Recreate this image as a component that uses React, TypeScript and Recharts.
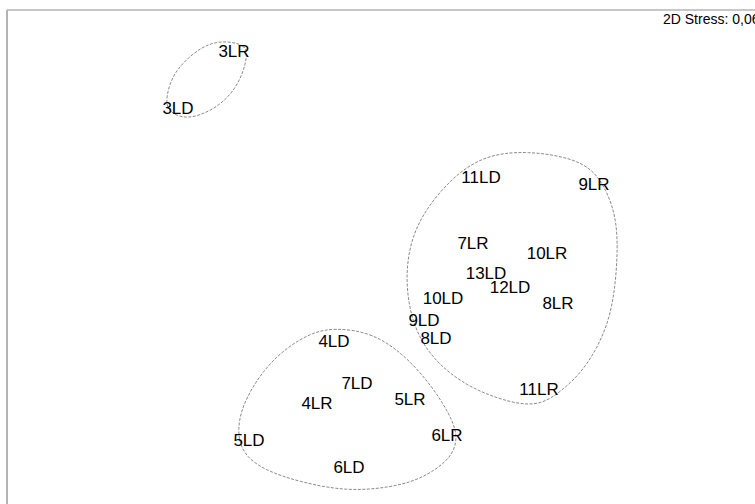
import React from "react";
import { ScatterChart, Scatter, XAxis, YAxis, ReferenceLine } from "recharts";

// NMDS ordination: sample labels plotted at their coordinates
const sampleNames = [
  "3LR", "3LD", "11LD", "9LR", "7LR", "10LR", "13LD", "12LD", "10LD", "8LR",
  "9LD", "8LD", "11LR", "4LD", "7LD", "4LR", "5LR", "6LR", "5LD", "6LD",
];
const sampleX = [
  -0.692, -0.916, 0.296, 0.748, 0.264, 0.56, 0.316, 0.412, 0.144, 0.604,
  0.068, 0.116, 0.528, -0.292, -0.2, -0.36, 0.012, 0.16, -0.632, -0.232,
];
const sampleY = [
  0.836, 0.608, 0.332, 0.304, 0.068, 0.028, -0.05, -0.108, -0.152, -0.17,
  -0.24, -0.312, -0.516, -0.322, -0.492, -0.57, -0.556, -0.698, -0.718, -0.828,
];

// cluster outlines (closed, dashed)
const groupA: [number, number][] = [
  [-0.72, 0.876], [-0.648, 0.86], [-0.636, 0.82], [-0.668, 0.708],
  [-0.748, 0.612], [-0.88, 0.556], [-0.96, 0.596], [-0.964, 0.652],
  [-0.936, 0.748], [-0.856, 0.828], [-0.788, 0.868],
];
const groupB: [number, number][] = [
  [0.472, 0.44], [0.72, 0.4], [0.8, 0.28], [0.844, 0.148], [0.84, -0.052],
  [0.812, -0.252], [0.72, -0.428], [0.624, -0.52], [0.532, -0.584],
  [0.412, -0.572], [0.24, -0.508], [0.104, -0.4], [0.024, -0.268],
  [-0.008, -0.092], [0.012, 0.08], [0.08, 0.212], [0.184, 0.332], [0.304, 0.416],
];
const groupC: [number, number][] = [
  [-0.288, -0.272], [-0.148, -0.288], [-0.016, -0.372], [0.104, -0.508],
  [0.184, -0.64], [0.204, -0.72], [0.172, -0.8], [0.052, -0.88],
  [-0.08, -0.912], [-0.24, -0.924], [-0.416, -0.892], [-0.576, -0.84],
  [-0.66, -0.772], [-0.68, -0.68], [-0.656, -0.572], [-0.576, -0.44],
  [-0.48, -0.348], [-0.376, -0.288],
];

const stressLabel = "2D Stress: 0,06";

const xDomain: [number, number] = [-1.6, 1.6];
const yDomain: [number, number] = [-1.2, 1.0];

const samples = sampleNames.map((name, i) => ({ name, x: sampleX[i], y: sampleY[i] }));
const toPts = (g: [number, number][]) => g.map(([x, y]) => ({ x, y }));

const outlineStyle = { stroke: "#8a8a8a", strokeWidth: 1, strokeDasharray: "3 1.5", fill: "none" };
const frame = "#b4b4b4";
const font = "'Liberation Sans', Arial, sans-serif";

function SampleLabel(props: any) {
  const { cx, cy, payload } = props;
  if (cx == null || cy == null) return <g />;
  return (
    <text x={cx} y={cy} dy={6} textAnchor="middle" fontSize={17} fontFamily={font} fill="#000">
      {payload.name}
    </text>
  );
}

const noDot = () => <g />;

export default function App() {
  return (
    <div
      style={{
        position: "fixed",
        left: 0,
        top: 0,
        width: 755,
        height: 504,
        overflow: "hidden",
        background: "#fff",
      }}
    >
      <ScatterChart width={807} height={560} margin={{ top: 10, right: 0, left: 7, bottom: 0 }}>
        <XAxis type="number" dataKey="x" domain={xDomain} hide />
        <YAxis type="number" dataKey="y" domain={yDomain} hide />
        {/* plot frame (left and top edges) */}
        <ReferenceLine x={xDomain[0]} stroke={frame} strokeWidth={2} ifOverflow="visible" />
        <ReferenceLine y={yDomain[1]} stroke={frame} strokeWidth={1.5} ifOverflow="visible" />
        <Scatter data={toPts(groupA)} shape={noDot} line={outlineStyle} lineJointType="basisClosed" isAnimationActive={false} />
        <Scatter data={toPts(groupB)} shape={noDot} line={outlineStyle} lineJointType="basisClosed" isAnimationActive={false} />
        <Scatter data={toPts(groupC)} shape={noDot} line={outlineStyle} lineJointType="basisClosed" isAnimationActive={false} />
        <Scatter data={samples} shape={SampleLabel} isAnimationActive={false} />
        <text x={663} y={24} fontSize={14} fontFamily={font} fill="#000">
          {stressLabel}
        </text>
      </ScatterChart>
    </div>
  );
}
